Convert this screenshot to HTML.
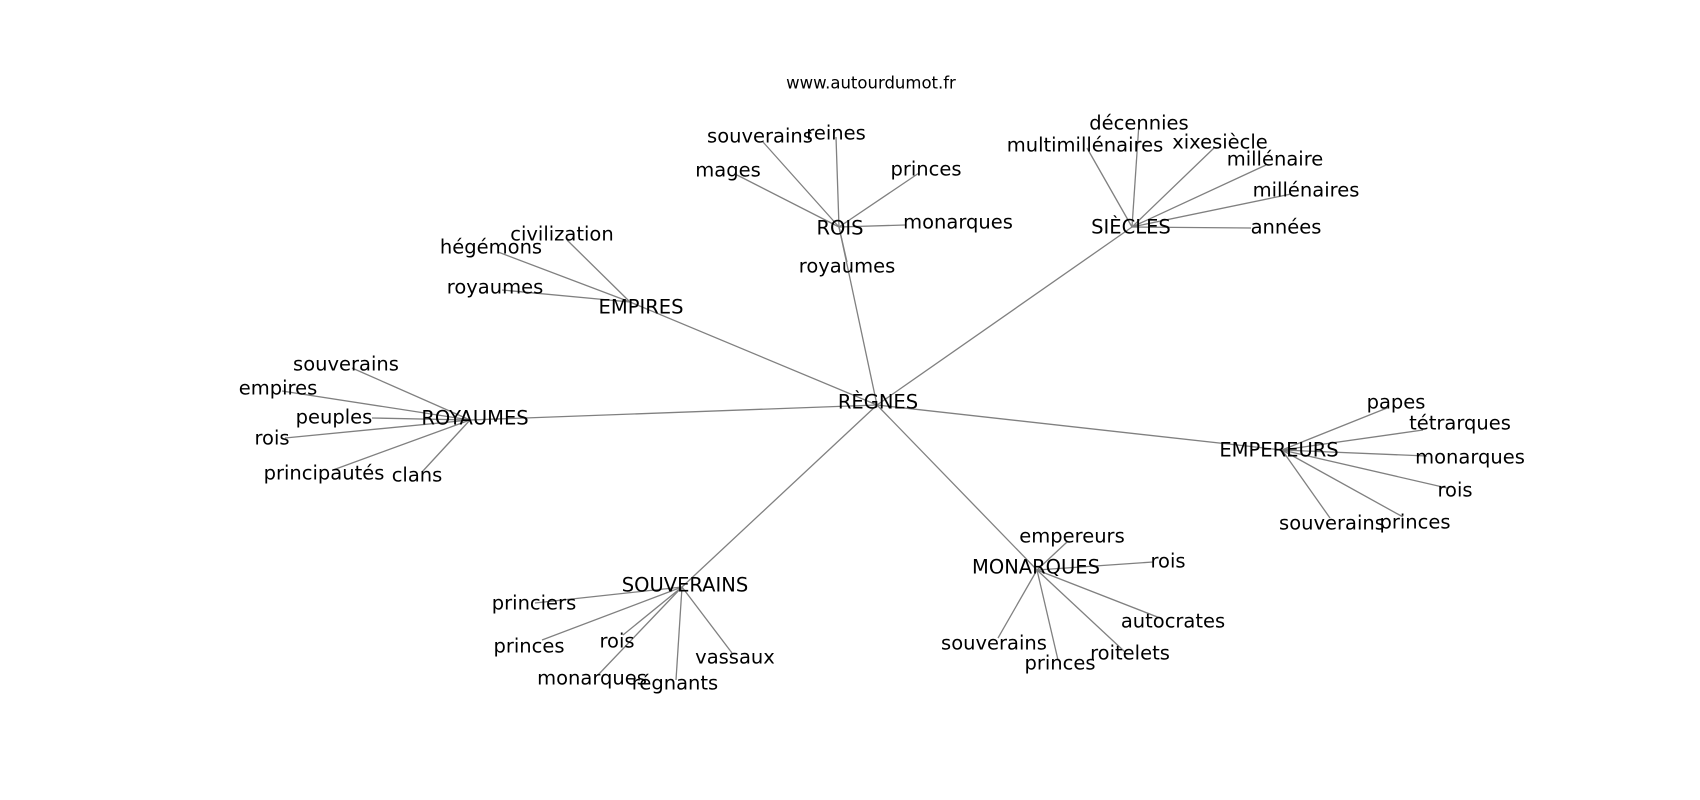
<!DOCTYPE html>
<html><head><meta charset="utf-8"><style>
html,body{margin:0;padding:0;background:#fff;}
svg{display:block;}
text{font-family:"DejaVu Sans","Liberation Sans",sans-serif;font-size:19.5px;fill:#000;text-anchor:middle;dominant-baseline:central;}
line{stroke:#808080;stroke-width:1.3;}
</style></head><body>
<svg width="1700" height="800" viewBox="0 0 1700 800" xmlns="http://www.w3.org/2000/svg">
<g>
<line x1="877" y1="405" x2="839" y2="227"/>
<line x1="877" y1="405" x2="1132" y2="227"/>
<line x1="877" y1="405" x2="630" y2="302"/>
<line x1="877" y1="405" x2="470" y2="420"/>
<line x1="877" y1="405" x2="1282" y2="450"/>
<line x1="877" y1="405" x2="682" y2="587"/>
<line x1="877" y1="405" x2="1037" y2="570"/>
<line x1="839" y1="227" x2="763" y2="142"/>
<line x1="839" y1="227" x2="836" y2="137"/>
<line x1="839" y1="227" x2="737" y2="175"/>
<line x1="839" y1="227" x2="919" y2="173"/>
<line x1="839" y1="227" x2="905" y2="225"/>
<line x1="839" y1="227" x2="847" y2="262"/>
<line x1="1132" y1="227" x2="1139" y2="123"/>
<line x1="1132" y1="227" x2="1087" y2="148"/>
<line x1="1132" y1="227" x2="1214" y2="148"/>
<line x1="1132" y1="227" x2="1266" y2="165"/>
<line x1="1132" y1="227" x2="1291" y2="194"/>
<line x1="1132" y1="227" x2="1251" y2="228"/>
<line x1="630" y1="302" x2="567" y2="240"/>
<line x1="630" y1="302" x2="498" y2="252"/>
<line x1="630" y1="302" x2="502" y2="290"/>
<line x1="470" y1="420" x2="352" y2="368"/>
<line x1="470" y1="420" x2="282" y2="391"/>
<line x1="470" y1="420" x2="372" y2="418"/>
<line x1="470" y1="420" x2="285" y2="438"/>
<line x1="470" y1="420" x2="333" y2="470"/>
<line x1="470" y1="420" x2="422" y2="472"/>
<line x1="1282" y1="450" x2="1387" y2="408"/>
<line x1="1282" y1="450" x2="1423" y2="430"/>
<line x1="1282" y1="450" x2="1427" y2="456"/>
<line x1="1282" y1="450" x2="1447" y2="488"/>
<line x1="1282" y1="450" x2="1403" y2="517"/>
<line x1="1282" y1="450" x2="1330" y2="518"/>
<line x1="682" y1="587" x2="535" y2="603"/>
<line x1="682" y1="587" x2="542" y2="640"/>
<line x1="682" y1="587" x2="623" y2="635"/>
<line x1="682" y1="587" x2="598" y2="675"/>
<line x1="682" y1="587" x2="676" y2="680"/>
<line x1="682" y1="587" x2="732" y2="653"/>
<line x1="1037" y1="570" x2="1067" y2="542"/>
<line x1="1037" y1="570" x2="1153" y2="562"/>
<line x1="1037" y1="570" x2="1160" y2="618"/>
<line x1="1037" y1="570" x2="998" y2="638"/>
<line x1="1037" y1="570" x2="1058" y2="660"/>
<line x1="1037" y1="570" x2="1125" y2="652"/>
</g>
<text x="871" y="83" style="font-size:16.5px">www.autourdumot.fr</text>

<text x="878" y="402">RÈGNES</text>

<text x="840" y="228">ROIS</text>
<text x="760" y="136">souverains</text>
<text x="836" y="133">reines</text>
<text x="728" y="170">mages</text>
<text x="926" y="169">princes</text>
<text x="958" y="222">monarques</text>
<text x="847" y="266">royaumes</text>

<text x="1131" y="227">SIÈCLES</text>
<text x="1139" y="123">décennies</text>
<text x="1085" y="145">multimillénaires</text>
<text x="1220" y="142">xixesiècle</text>
<text x="1275" y="159">millénaire</text>
<text x="1306" y="190">millénaires</text>
<text x="1286" y="227">années</text>

<text x="641" y="307">EMPIRES</text>
<text x="562" y="234">civilization</text>
<text x="491" y="247">hégémons</text>
<text x="495" y="287">royaumes</text>

<text x="475" y="418">ROYAUMES</text>
<text x="346" y="364">souverains</text>
<text x="278" y="388">empires</text>
<text x="334" y="417">peuples</text>
<text x="272" y="438">rois</text>
<text x="324" y="473">principautés</text>
<text x="417" y="475">clans</text>

<text x="1279" y="450">EMPEREURS</text>
<text x="1396" y="402">papes</text>
<text x="1460" y="423">tétrarques</text>
<text x="1470" y="457">monarques</text>
<text x="1455" y="490">rois</text>
<text x="1415" y="522">princes</text>
<text x="1332" y="523">souverains</text>

<text x="685" y="585">SOUVERAINS</text>
<text x="534" y="603">princiers</text>
<text x="529" y="646">princes</text>
<text x="617" y="641">rois</text>
<text x="592" y="678">monarques</text>
<text x="675" y="683">régnants</text>
<text x="735" y="657">vassaux</text>

<text x="1036" y="567">MONARQUES</text>
<text x="1072" y="536">empereurs</text>
<text x="1168" y="561">rois</text>
<text x="1173" y="621">autocrates</text>
<text x="994" y="643">souverains</text>
<text x="1060" y="663">princes</text>
<text x="1130" y="653">roitelets</text>
</svg>
</body></html>
